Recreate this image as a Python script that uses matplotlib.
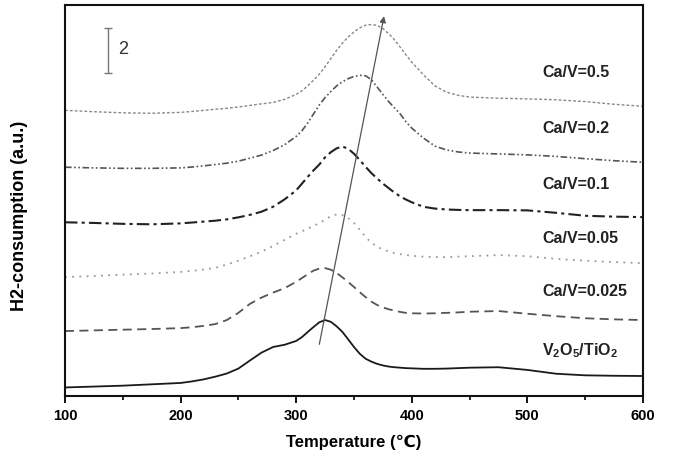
import matplotlib
matplotlib.use("Agg")
import matplotlib.pyplot as plt

plt.rcParams["font.family"] = ["Liberation Sans", "DejaVu Sans"]
plt.rcParams["mathtext.fontset"] = "custom"
plt.rcParams["mathtext.rm"] = "Liberation Sans"
plt.rcParams["mathtext.bf"] = "Liberation Sans:bold"

# temperature grid (degC) shared by all TPR traces
temps = [100, 125, 150, 175, 200, 210, 220, 230, 240, 250, 260, 270, 280, 290,
         300, 305, 310, 315, 320, 325, 330, 335, 340, 345, 350, 355, 360, 365,
         370, 375, 380, 385, 390, 395, 400, 410, 420, 430, 440, 450, 475, 500,
         525, 550, 575, 600]

v2o5 = [0.38, 0.42, 0.46, 0.52, 0.58, 0.65, 0.74, 0.86, 1.00, 1.22,
        1.58, 1.93, 2.18, 2.28, 2.45, 2.62, 2.85, 3.07, 3.28, 3.38,
        3.30, 3.10, 2.85, 2.52, 2.18, 1.88, 1.66, 1.53, 1.43, 1.36,
        1.31, 1.28, 1.26, 1.24, 1.23, 1.21, 1.21, 1.22, 1.24, 1.26,
        1.28, 1.16, 0.99, 0.92, 0.90, 0.89]
ca_0025 = [2.89, 2.92, 2.95, 2.98, 3.02, 3.06, 3.12, 3.20, 3.38, 3.70,
           4.10, 4.38, 4.60, 4.80, 5.08, 5.25, 5.42, 5.58, 5.67, 5.69,
           5.62, 5.47, 5.28, 5.07, 4.85, 4.62, 4.40, 4.20, 4.05, 3.94,
           3.86, 3.80, 3.74, 3.70, 3.68, 3.67, 3.68, 3.70, 3.72, 3.75,
           3.78, 3.66, 3.55, 3.46, 3.41, 3.38]
ca_005 = [5.29, 5.34, 5.40, 5.45, 5.52, 5.57, 5.63, 5.70, 5.85, 6.02,
          6.22, 6.42, 6.68, 6.95, 7.22, 7.33, 7.45, 7.57, 7.68, 7.85,
          8.00, 8.08, 8.05, 7.92, 7.70, 7.40, 7.08, 6.82, 6.65, 6.52,
          6.43, 6.36, 6.31, 6.27, 6.24, 6.20, 6.18, 6.18, 6.20, 6.22,
          6.27, 6.22, 6.10, 6.02, 5.96, 5.91]
ca_01 = [7.73, 7.70, 7.66, 7.64, 7.68, 7.72, 7.76, 7.80, 7.86, 7.95,
         8.06, 8.20, 8.42, 8.75, 9.15, 9.45, 9.75, 10.04, 10.30, 10.62,
         10.85, 11.02, 11.10, 11.00, 10.78, 10.50, 10.20, 9.92, 9.68, 9.45,
         9.25, 9.05, 8.88, 8.74, 8.62, 8.42, 8.34, 8.30, 8.28, 8.27,
         8.27, 8.26, 8.15, 8.02, 7.98, 7.96]
ca_02 = [10.18, 10.15, 10.13, 10.13, 10.15, 10.19, 10.24, 10.30, 10.36, 10.45,
         10.58, 10.72, 10.92, 11.18, 11.55, 11.80, 12.15, 12.55, 12.95, 13.28,
         13.55, 13.80, 13.98, 14.12, 14.22, 14.27, 14.25, 14.08, 13.75, 13.42,
         13.10, 12.82, 12.55, 12.20, 11.92, 11.48, 11.12, 10.95, 10.86, 10.81,
         10.77, 10.73, 10.66, 10.56, 10.47, 10.40]
ca_05 = [12.71, 12.65, 12.60, 12.58, 12.62, 12.66, 12.71, 12.76, 12.80, 12.86,
         12.93, 13.00, 13.06, 13.20, 13.42, 13.58, 13.80, 14.05, 14.32, 14.65,
         15.02, 15.38, 15.70, 15.98, 16.20, 16.38, 16.50, 16.53, 16.49, 16.35,
         16.12, 15.85, 15.52, 15.18, 14.85, 14.30, 13.80, 13.52, 13.38, 13.30,
         13.25, 13.22, 13.18, 13.10, 12.98, 12.89]

labels = ["V$_{\\mathbf{2}}$O$_{\\mathbf{5}}$/TiO$_{\\mathbf{2}}$",
          "Ca/V=0.025", "Ca/V=0.05", "Ca/V=0.1", "Ca/V=0.2", "Ca/V=0.5"]
label_y = [2.04, 4.67, 7.02, 9.42, 11.91, 14.4]

series = [v2o5, ca_0025, ca_005, ca_01, ca_02, ca_05]
styles = [
    dict(color="#1a1a1a", lw=1.3, ls="-"),
    dict(color="#555555", lw=1.3, ls=(0, (5, 3))),
    dict(color="#999999", lw=1.3, ls=(0, (1, 3))),
    dict(color="#222222", lw=1.5, ls=(0, (6, 2, 1.5, 2))),
    dict(color="#555555", lw=1.2, ls=(0, (4, 1.5, 1, 1.5, 1, 1.5))),
    dict(color="#888888", lw=1.0, ls=(0, (2, 1.5))),
]

fig = plt.figure(figsize=(6.74, 4.5), dpi=100)
ax = fig.add_axes([0.0964, 0.12, 0.8576, 0.869])

for ys, st in zip(series, styles):
    ax.plot(temps, ys, **st)

for lab, y in zip(labels, label_y):
    ax.text(513, y, lab, fontsize=11.5, fontweight="bold", color="#222222",
            va="center", ha="left")

# shift of the main reduction peak
ax.annotate("", xy=(376, 16.9), xytext=(320, 2.3),
            arrowprops=dict(arrowstyle="-|>", color="#555555", lw=0.9,
                            mutation_scale=9, shrinkA=0, shrinkB=0))

# scale bar
ax.errorbar([137], [15.36], yerr=[1.0], color="#777777", lw=1.0,
            capsize=3, capthick=1.0)
ax.text(146, 15.4, "2", fontsize=13, color="#333333", va="center")

ax.set_xlim(100, 600)
ax.set_ylim(0, 17.4)
ax.set_xticks([100, 200, 300, 400, 500, 600])
ax.set_xticks([150, 250, 350, 450, 550], minor=True)
ax.set_yticks([])
ax.tick_params(axis="x", which="major", direction="out", length=5, width=1.3,
               labelsize=10.5, pad=4)
ax.tick_params(axis="x", which="minor", direction="out", length=3, width=1.2)
for lbl in ax.get_xticklabels():
    lbl.set_fontweight("bold")
for sp in ax.spines.values():
    sp.set_linewidth(1.5)
    sp.set_color("#111111")

ax.set_xlabel("Temperature (℃)", fontsize=12, fontweight="bold", labelpad=9)
fig.text(20 / 674, 0.52, "H2-consumption (a.u.)", rotation=90, fontsize=13,
         fontweight="bold", ha="center", va="center")

fig.savefig("out.png", dpi=100)
